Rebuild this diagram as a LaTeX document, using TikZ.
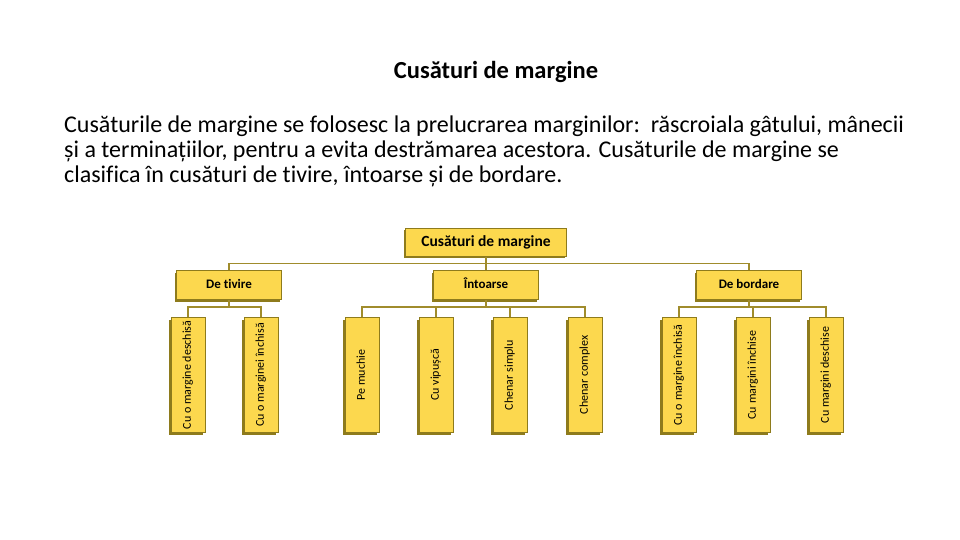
\documentclass[tikz,border=0pt]{standalone}
\usepackage{fontspec}
\setmainfont{Carlito}[Ligatures=NoCommon]
\usetikzlibrary{shadows,calc}
\definecolor{boxfill}{HTML}{FCD84E}
\definecolor{boxedge}{HTML}{8E7B1C}
\definecolor{connc}{HTML}{A08C2C}
\tikzset{
  box/.style={draw=boxedge, line width=1pt, fill=boxfill, inner sep=0pt,
    general shadow={shadow xshift=-2pt, shadow yshift=-2pt, fill=boxedge}},
  topbox/.style={box, minimum width=161pt, minimum height=28pt, text height=11pt, text depth=3pt,
    font=\fontsize{15.5}{17}\selectfont\bfseries},
  midbox/.style={box, minimum width=105pt, minimum height=29pt, text height=9pt, text depth=2.5pt,
    font=\fontsize{13}{15}\selectfont\bfseries},
  leafbox/.style={box, minimum width=34pt, minimum height=115pt, font=\fontsize{12}{14}\selectfont},
  conn/.style={draw=connc, line width=1.8pt},
}
\begin{document}
\begin{tikzpicture}[x=1pt,y=-1pt]
\useasboundingbox[fill=white] (0,0) rectangle (960,540);
\node[font=\fontsize{24.5}{26}\selectfont\bfseries] (title) at (496,72) {Cusături de margine};
\node[font=\fontsize{24}{25}\selectfont, anchor=north west, align=left, inner sep=0pt] (body) at (64,116)
 {Cusăturile de margine se folosesc la prelucrarea marginilor:\ \ răscroiala gâtului, mânecii\\
  și a terminațiilor, pentru a evita destrămarea acestora. Cusăturile de margine se\\
  clasifica în cusături de tivire, întoarse și de bordare.};

\node[topbox] (top) at (486,242) {Cusături de margine};
\node[midbox] (tiv) at (229,285) {De tivire};
\node[midbox] (into) at (486,285) {Întoarse};
\node[midbox] (bord) at (749,285) {De bordare};

\foreach \n/\x/\t in {l1/188/Cu o margine deschisă, l2/261/Cu o marginei închisă, l3/362/Pe muchie, l4/436/Cu vipușcă, l5/510/Chenar simplu, l6/585/Chenar complex, l7/679/Cu o margine închisă, l8/753/Cu margini închise, l9/826/Cu margini deschise}
  \node[leafbox] (\n) at (\x,375) {\rotatebox{90}{\strut\t}};

\draw[conn] (top.south) -- ++(0,7) -| (tiv.north);
\draw[conn] (top.south) -- ++(0,7) -| (bord.north);
\draw[conn] (top.south) -- (into.north);

\draw[conn] (tiv.south) -- ++(0,7) -| (l1.north);
\draw[conn] (tiv.south) -- ++(0,7) -| (l2.north);
\draw[conn] (into.south) -- ++(0,7) -| (l3.north);
\draw[conn] (into.south) -- ++(0,7) -| (l4.north);
\draw[conn] (into.south) -- ++(0,7) -| (l5.north);
\draw[conn] (into.south) -- ++(0,7) -| (l6.north);
\draw[conn] (bord.south) -- ++(0,7) -| (l7.north);
\draw[conn] (bord.south) -- ++(0,7) -| (l8.north);
\draw[conn] (bord.south) -- ++(0,7) -| (l9.north);
\end{tikzpicture}
\end{document}
